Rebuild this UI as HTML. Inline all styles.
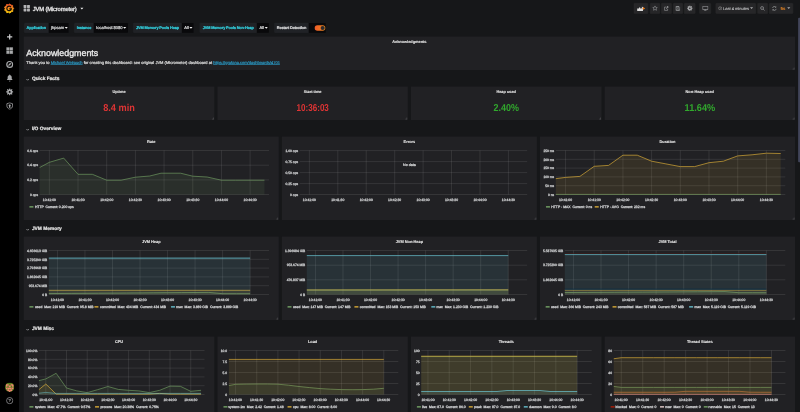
<!DOCTYPE html>
<html lang="en">
<head>
<meta charset="utf-8">
<title>JVM (Micrometer) - Grafana</title>
<style>
html,body{margin:0;padding:0;background:#161719;overflow:hidden;height:412px}
body{width:800px;height:412px;position:relative;font-family:"Liberation Sans",Arial,sans-serif;color:#d8d9da;text-rendering:geometricPrecision;-webkit-font-smoothing:antialiased}
#root{position:absolute;left:0;top:0;width:2560px;height:1318px;transform:scale(.3125);transform-origin:0 0;filter:opacity(1);background:#161719;overflow:hidden;font-size:14px;-webkit-text-stroke:.7px}
#root *{box-sizing:border-box}
.side{position:absolute;left:0;top:0;width:60.500px;height:1318px;background:#000}
.side svg{position:absolute}
.nav-title{position:absolute;left:105px;top:15px;height:26px;line-height:26px;font-size:18.600px;letter-spacing:-.48px;color:#ececec;white-space:nowrap;-webkit-text-stroke:.9px}
.nbtn{position:absolute;top:9.500px;height:34.500px;background:#262628;border:1px solid #2f2f32;border-radius:2px;color:#d8d9da;white-space:nowrap}
.nbtn svg{position:absolute;left:50%;top:50%}
.vlabel{position:absolute;top:73px;height:32px;line-height:32px;background:#202226;border:1px solid #282a2e;border-radius:2px 0 0 2px;font-size:12.300px;letter-spacing:-.45px;font-weight:bold;text-align:center;color:#32d1df;white-space:nowrap}
.vvalue{position:absolute;top:73px;height:32px;line-height:32px;background:#09090b;border:1px solid #111113;border-left:0;border-radius:0 2px 2px 0;font-size:13px;padding-left:8px;color:#d8d9da;white-space:nowrap}
.caret{display:inline-block;width:0;height:0;border-left:5.500px solid transparent;border-right:5.500px solid transparent;border-top:6.500px solid #f2f2f2;vertical-align:middle;margin-left:2px;position:relative;top:-1.500px}
.panel{position:absolute;background:#212124;overflow:hidden}
.ptitle{position:absolute;left:0;right:0;top:4px;height:22px;line-height:22px;text-align:center;font-size:12.400px;font-weight:bold;color:#e4e4e4;white-space:nowrap;-webkit-text-stroke:.35px}
.rowh{position:absolute;left:84px;height:30px;line-height:30px;font-size:15.500px;font-weight:bold;color:#e3e3e3;white-space:nowrap;padding-left:18px}
.rowh svg{position:absolute;left:-1.500px;top:13px}
.plot{position:absolute;left:0;top:0}
.grid{fill:none;stroke:#c8c8c8;stroke-opacity:.38;stroke-width:1}
.yl{position:absolute;font-size:10.600px;line-height:16px;height:16px;color:#bfc0c2;-webkit-text-stroke:.95px;white-space:nowrap;text-align:right}
.xl{position:absolute;width:80px;text-align:center;font-size:10.800px;line-height:16px;height:16px;color:#bfc0c2;-webkit-text-stroke:.95px;white-space:nowrap}
.lg{position:absolute;font-size:10.900px;line-height:18px;height:18px;color:#cdced0;white-space:pre;-webkit-text-stroke:.85px}
.sw{position:absolute;width:13px;height:4px;border-radius:1px}
.rz{position:absolute;right:2px;bottom:2px;width:6px;height:6px;border-right:2px solid #5a5a5e;border-bottom:2px solid #5a5a5e;opacity:.8}
.sval{position:absolute;left:0;right:0;text-align:center;font-weight:bold;font-size:32px;line-height:40px;white-space:nowrap;-webkit-text-stroke:0}
a{color:#2a9cc8;text-decoration:underline;text-decoration-thickness:1.600px;text-underline-offset:1px;-webkit-text-stroke:.5px}
</style>
</head>
<body>
<div id="root">

<div class="side">
<svg style="left:11.8px;top:9.56px" width="34" height="34" viewBox="0 0 34 34"><defs><linearGradient id="lg1" x1="0" y1="1" x2="0" y2="0"><stop offset="0" stop-color="#fcd10a"/><stop offset=".55" stop-color="#f58a1f"/><stop offset="1" stop-color="#f0512a"/></linearGradient></defs><path d="M19.27 2.27L22.84 6.59L28.4 7.25L28.36 12.85L32.2 16.93L28.56 21.19L28.88 26.78L23.36 27.71L20.01 32.2L15.18 29.36L9.73 30.65L7.85 25.37L2.85 22.85L4.8 17.6L2.59 12.45L7.46 9.69L9.08 4.33L14.59 5.34Z" fill="url(#lg1)" stroke="url(#lg1)" stroke-width="3" stroke-linejoin="round"/><path d="M23.300 13.200A7.200 7.200 0 1 0 24.300 18.200H17.600" fill="none" stroke="#000" stroke-opacity=".92" stroke-width="3.800"/></svg>
<svg style="left:21.36px;top:107.76px" width="20" height="20" viewBox="0 0 20 20"><path d="M8 1.500h4V8h6.500v4H12v6.500H8V12H1.500V8H8z" fill="#c9cacc"/></svg>
<svg style="left:19.04px;top:149.92px" width="24" height="24" viewBox="0 0 24 24"><path d="M2 2h9v9H2zM13 2h9v9h-9zM2 13h9v9H2zM13 13h9v9h-9z" fill="#a9aaac" stroke="#a9aaac" stroke-width="1" stroke-linejoin="round"/></svg>
<svg style="left:18.72px;top:194.08px" width="24" height="24" viewBox="0 0 24 24"><circle cx="12" cy="12" r="9.300" fill="none" stroke="#a9aaac" stroke-width="3.800"/><path d="M17.200 6.800l-3 7.400-7.400 3 3-7.400z" fill="#a9aaac"/></svg>
<svg style="left:20.04px;top:237.1px" width="22" height="25" viewBox="0 0 22 25"><path d="M11 1.500c1 0 1.700.700 1.700 1.700v.600c3 .700 4.800 3.200 4.800 6.300v4.600l2.500 3.400v1.100H2v-1.100l2.500-3.400v-4.600c0-3.100 1.800-5.600 4.800-6.300v-.600c0-1 .700-1.700 1.700-1.700zM8.300 21h5.400c0 1.500-1.200 2.700-2.700 2.700S8.300 22.500 8.300 21z" fill="#a9aaac"/></svg>
<svg style="left:18.72px;top:282.4px" width="24" height="24" viewBox="0 0 24 24"><path d="M10.23 0.84L13.77 0.84L14.04 4.06L16.17 4.94L18.64 2.86L21.14 5.36L19.06 7.83L19.94 9.96L23.16 10.23L23.16 13.77L19.94 14.04L19.06 16.17L21.14 18.64L18.64 21.14L16.17 19.06L14.04 19.94L13.77 23.16L10.23 23.16L9.96 19.94L7.83 19.06L5.36 21.14L2.86 18.64L4.94 16.17L4.06 14.04L0.84 13.77L0.84 10.23L4.06 9.96L4.94 7.83L2.86 5.36L5.36 2.86L7.83 4.94L9.96 4.06ZM8.9 12a3.1 3.1 0 1 0 6.2 0a3.1 3.1 0 1 0 -6.2 0z" fill="#a9aaac" fill-rule="evenodd"/></svg>
<svg style="left:19.04px;top:326.56px" width="24" height="24" viewBox="0 0 24 24"><path d="M12 2l9 2.800v6.700c0 5.500-3.700 9.300-9 11-5.300-1.700-9-5.500-9-11V4.800z" fill="none" stroke="#a9aaac" stroke-width="2.400" stroke-linejoin="round"/><path d="M12 7.500c2 0 3.300 1.300 3.300 3 0 1.200-.700 2.100-1.600 2.600l1.300 4.400H9l1.300-4.400c-.900-.500-1.600-1.400-1.600-2.600 0-1.700 1.300-3 3.300-3z" fill="#a9aaac"/></svg>
<svg style="left:15.72px;top:1223.72px" width="30" height="30" viewBox="0 0 28 28"><defs><clipPath id="avc"><circle cx="14" cy="14" r="14"/></clipPath></defs><g clip-path="url(#avc)"><rect width="28" height="28" fill="#5b7d1e"/><path d="M3 5h8v4H7v4H3zM25 5h-8v4h4v4h4zM11 9h6v5h-6zM3 15h5v5H3zM25 15h-5v5h5zM9 16h10v4H9zM7 21h5v5H7zM21 21h-5v5h5zM12 23h4v5h-4z" fill="#f28270"/></g></svg>
<svg style="left:18.72px;top:1269.92px" width="24" height="24" viewBox="0 0 24 24"><circle cx="12" cy="12" r="10" fill="none" stroke="#c4c5c7" stroke-width="1.800"/><text x="12" y="17" font-size="14" font-weight="bold" text-anchor="middle" fill="#c4c5c7" font-family="Liberation Sans, sans-serif">?</text></svg>
</div>
<svg style="position:absolute;left:74px;top:15px" width="23" height="23" viewBox="0 0 23 23"><g fill="#b3b4b6"><rect x="1.300" y="1.300" width="9.200" height="9.200" rx="1.300"/><rect x="12.500" y="1.300" width="9.200" height="9.200" rx="1.300"/><rect x="1.300" y="12.500" width="9.200" height="9.200" rx="1.300"/><rect x="12.500" y="12.500" width="9.200" height="9.200" rx="1.300"/></g></svg>
<div class="nav-title">JVM (Micrometer) <span class="caret" style="margin-left:7px;border-left-width:5px;border-right-width:5px;border-top-width:5px;border-top-color:#f0f0f0"></span></div>
<div class="nbtn" style="left:2028.48px;width:45.12px"><svg style="margin:-9px 0 0 -13px" width="27" height="18" viewBox="0 0 27 18"><path d="M1 17V10l2.500-1.500 2 1.500L8 5l3 2v3l2.500-2 2.500 1V3l3.500 2.500V17z" fill="#dcdcdc"/><path d="M19 5.500h3v-3h2.500v3h3V8h-3v3H22V8h-3z" fill="#eb7b18" transform="translate(-1.500,2)"/></svg></div>
<div class="nbtn" style="left:2079.68px;width:32.32px"><svg style="margin:-9.500px 0 0 -9px" width="18" height="18" viewBox="0 0 18 18"><path d="M9 1.800l2.200 4.800 5.200.600-3.900 3.500 1.100 5.100L9 13.200l-4.600 2.600 1.100-5.100L1.600 7.200l5.200-.600z" fill="none" stroke="#a9aaac" stroke-width="1.600" stroke-linejoin="round"/></svg></div>
<div class="nbtn" style="left:2116.16px;width:32.64px"><svg style="margin:-8px 0 0 -8px" width="16" height="16" viewBox="0 0 18 18"><path d="M8 4H3v12h11v-6" fill="none" stroke="#a9aaac" stroke-width="2"/><path d="M10 1.500h6.500V8L14 5.500 9.500 10.500 7.500 8.500l5-4.500z" fill="#a9aaac"/></svg></div>
<div class="nbtn" style="left:2153.6px;width:31.68px"><svg style="margin:-8px 0 0 -8px" width="16" height="16" viewBox="0 0 18 18"><path d="M2 2h11l3 3v11H2z" fill="none" stroke="#a9aaac" stroke-width="2"/><path d="M5 2h7v5H5zM5 10.500h8V16H5z" fill="none" stroke="#a9aaac" stroke-width="1.600"/></svg></div>
<div class="nbtn" style="left:2189.12px;width:36.16px"><svg style="margin:-9.500px 0 0 -9.500px" width="19" height="19" viewBox="0 0 24 24"><path d="M10.23 0.84L13.77 0.84L14.04 4.06L16.17 4.94L18.64 2.86L21.14 5.36L19.06 7.83L19.94 9.96L23.16 10.23L23.16 13.77L19.94 14.04L19.06 16.17L21.14 18.64L18.64 21.14L16.17 19.06L14.04 19.94L13.77 23.16L10.23 23.16L9.96 19.94L7.83 19.06L5.36 21.14L2.86 18.64L4.94 16.17L4.06 14.04L0.84 13.77L0.84 10.23L4.06 9.96L4.94 7.83L2.86 5.36L5.36 2.86L7.83 4.94L9.96 4.06ZM8.9 12a3.1 3.1 0 1 0 6.2 0a3.1 3.1 0 1 0 -6.2 0z" fill="#a2a3a5" fill-rule="evenodd"/></svg></div>
<div class="nbtn" style="left:2238.4px;width:36.48px"><svg style="margin:-8px 0 0 -10px" width="20" height="16" viewBox="0 0 22 18"><path d="M1.500 1.500h19v11.500h-19z" fill="none" stroke="#a9aaac" stroke-width="2.200"/><path d="M7 16.500h8v-1.500l-2-1.500H9l-2 1.500z" fill="#a9aaac"/></svg></div>
<div class="nbtn" style="left:2289.6px;width:129.28px"><svg style="left:7px;margin:-7px 0 0 0" width="13" height="13" viewBox="0 0 15 15"><circle cx="7.500" cy="7.500" r="6" fill="none" stroke="#a9aaac" stroke-width="1.800"/><path d="M7.500 3.500v4.300l2.800 1.600" fill="none" stroke="#a9aaac" stroke-width="1.500"/></svg><span style="position:absolute;left:23px;top:0;line-height:33px;font-size:12.800px;color:#bcbdbf;-webkit-text-stroke:.4px">Last 4 minutes</span><span class="caret" style="position:absolute;right:8px;top:12px;border-left-width:5px;border-right-width:5px;border-top-width:6px;border-top-color:#a9aaac"></span></div>
<div class="nbtn" style="left:2424px;width:32.96px"><svg style="margin:-8px 0 0 -8px" width="16" height="16" viewBox="0 0 18 18"><circle cx="7.500" cy="7.500" r="5.500" fill="none" stroke="#a9aaac" stroke-width="2"/><path d="M11.500 11.500l5 5" stroke="#a9aaac" stroke-width="2.400"/><path d="M5 7.500h5" stroke="#a9aaac" stroke-width="1.600"/></svg></div>
<div class="nbtn" style="left:2461.44px;width:76.16px"><svg style="left:7px;margin:-9px 0 0 0" width="18" height="18" viewBox="0 0 20 20"><path d="M3.500 8.500A6.500 6.500 0 0115 5.500M16.500 11.500A6.500 6.500 0 015 14.500" fill="none" stroke="#a9aaac" stroke-width="2.200"/><path d="M16.500 2v5h-5zM3.500 18v-5h5z" fill="#a9aaac"/></svg><span style="position:absolute;left:35px;top:0;line-height:33px;font-size:14px;font-weight:bold;-webkit-text-stroke:0;color:#f08a24">5s</span><span class="caret" style="position:absolute;right:8px;top:12px;border-left-width:5px;border-right-width:5px;border-top-width:6px;border-top-color:#a9aaac"></span></div>
<div class="vlabel" style="left:76.8px;width:78.72px;color:#32d1df">Application</div><div class="vvalue" style="left:155.52px;width:64.96px">jhpsam<span class="caret"></span></div>
<div class="vlabel" style="left:237.12px;width:63.04px;color:#32d1df">Instance</div><div class="vvalue" style="left:300.16px;width:109.44px">localhost:8080<span class="caret"></span></div>
<div class="vlabel" style="left:426.24px;width:155.52px;color:#32d1df">JVM Memory Pools Heap</div><div class="vvalue" style="left:581.76px;width:38.72px">All<span class="caret"></span></div>
<div class="vlabel" style="left:639.04px;width:183.04px;color:#32d1df">JVM Memory Pools Non-Heap</div><div class="vvalue" style="left:822.08px;width:39.36px">All<span class="caret"></span></div>
<div class="vlabel" style="left:878.4px;width:109.12px;color:#d8d9da">Restart Detection</div><div class="vvalue" style="left:987.52px;width:55.36px"><span style="position:absolute;left:19px;top:7px;width:34px;height:17px;border-radius:9px;background:linear-gradient(90deg,#f05a28,#eb8a1e)"><span style="position:absolute;right:2px;top:2px;width:13px;height:13px;border-radius:50%;background:#2b2b2e"></span></span></div>
<div class="panel" style="left:76px;top:117px;width:2468px;height:107px">
<div class="ptitle">Acknowledgments</div>
<div style="position:absolute;left:8px;top:35px;font-size:28.400px;line-height:34px;color:#ececec;white-space:nowrap;-webkit-text-stroke:1px">Acknowledgments</div>
<div style="position:absolute;left:8px;top:75px;font-size:12.900px;line-height:18px;white-space:nowrap;color:#dcdcdc;-webkit-text-stroke:.65px">Thank you to <a>Michael Weirauch</a> for creating this dashboard: see original JVM (Micrometer) dashboard at <a>https://grafana.com/dashboards/4701</a></div>
<b class="rz"></b></div>
<div class="rowh" style="top:238px"><svg width="11" height="8" viewBox="0 0 11 8"><path d="M1.500 1.800l4 4 4-4" fill="none" stroke="#d0d1d3" stroke-width="1.900"/></svg>Quick Facts</div>
<div class="rowh" style="top:398px"><svg width="11" height="8" viewBox="0 0 11 8"><path d="M1.500 1.800l4 4 4-4" fill="none" stroke="#d0d1d3" stroke-width="1.900"/></svg>I/O Overview</div>
<div class="rowh" style="top:718px"><svg width="11" height="8" viewBox="0 0 11 8"><path d="M1.500 1.800l4 4 4-4" fill="none" stroke="#d0d1d3" stroke-width="1.900"/></svg>JVM Memory</div>
<div class="rowh" style="top:1038px"><svg width="11" height="8" viewBox="0 0 11 8"><path d="M1.500 1.800l4 4 4-4" fill="none" stroke="#d0d1d3" stroke-width="1.900"/></svg>JVM Misc</div>
<div class="panel" style="left:76px;top:277px;width:609.5px;height:107px"><div class="ptitle">Uptime</div><div class="sval" style="top:46.500px;color:rgba(245,54,54,.9);transform:scaleX(0.918)">8.4 min</div><b class="rz"></b></div>
<div class="panel" style="left:695.5px;top:277px;width:609.5px;height:107px"><div class="ptitle">Start time</div><div class="sval" style="top:46.500px;color:rgba(245,54,54,.9);transform:scaleX(0.805)">10:36:03</div><b class="rz"></b></div>
<div class="panel" style="left:1315px;top:277px;width:609.5px;height:107px"><div class="ptitle">Heap used</div><div class="sval" style="top:46.500px;color:rgba(50,172,45,.97);transform:scaleX(0.897)">2.40%</div><b class="rz"></b></div>
<div class="panel" style="left:1934.5px;top:277px;width:609.5px;height:107px"><div class="ptitle">Non-Heap used</div><div class="sval" style="top:46.500px;color:rgba(50,172,45,.97);transform:scaleX(0.918)">11.64%</div><b class="rz"></b></div>
<div class="panel" style="left:76px;top:437px;width:816px;height:267px">
<div class="ptitle">Rate</div>
<svg class="plot" width="816" height="267" viewBox="0 0 816 267">
<path class="grid" d="M50.72 44.6H784.96M50.72 91.64H784.96M50.72 138.68H784.96M50.72 185.4H784.96M81.93 44.48V185.6M173.71 44.48V185.6M265.49 44.48V185.6M357.27 44.48V185.6M449.05 44.48V185.6M540.83 44.48V185.6M632.61 44.48V185.6M724.39 44.48V185.6"/>
<clipPath id="c76_437"><rect x="50.72" y="40.48" width="734.24" height="147.12"/></clipPath>
<g clip-path="url(#c76_437)">
<path d="M36.04 107L81.93 82.36L127.82 68.92L173.71 120.76L219.6 120.76L265.49 139.64L311.38 139.64L357.27 130.04L403.16 126.2L439.2 117.24L501.92 117.24L540.83 126.84L586.72 129.4L632.61 139.64L678.5 139.64L724.39 139.64L770.28 139.64L770.28 185.6L36.04 185.6Z" fill="#7eb26d" fill-opacity="0.1" stroke="none"/>
<path d="M36.04 107L81.93 82.36L127.82 68.92L173.71 120.76L219.6 120.76L265.49 139.64L311.38 139.64L357.27 130.04L403.16 126.2L439.2 117.24L501.92 117.24L540.83 126.84L586.72 129.4L632.61 139.64L678.5 139.64L724.39 139.64L770.28 139.64" fill="none" stroke="#7eb26d" stroke-width="2" stroke-opacity="0.9" stroke-linejoin="round"/>
</g>
</svg>
<div class="yl" style="right:770.28px;top:37.4px">0.6 ops</div>
<div class="yl" style="right:770.28px;top:84.44px">0.4 ops</div>
<div class="yl" style="right:770.28px;top:131.48px">0.2 ops</div>
<div class="yl" style="right:770.28px;top:178.2px">0 ops</div>
<div class="xl" style="left:41.93px;top:194.48px">10:41:00</div>
<div class="xl" style="left:133.71px;top:194.48px">10:41:30</div>
<div class="xl" style="left:225.49px;top:194.48px">10:42:00</div>
<div class="xl" style="left:317.27px;top:194.48px">10:42:30</div>
<div class="xl" style="left:409.05px;top:194.48px">10:43:00</div>
<div class="xl" style="left:500.83px;top:194.48px">10:43:30</div>
<div class="xl" style="left:592.61px;top:194.48px">10:44:00</div>
<div class="xl" style="left:684.39px;top:194.48px">10:44:30</div>
<i class="sw" style="left:18.4px;top:222.64px;background:#7eb26d"></i>
<div class="lg" style="left:35.68px;top:215.64px">HTTP  Current: 0.200 ops</div>
<b class="rz"></b></div>
<div class="panel" style="left:902px;top:437px;width:816px;height:267px">
<div class="ptitle">Errors</div>
<svg class="plot" width="816" height="267" viewBox="0 0 816 267">
<path class="grid" d="M57.04 44.92H784.96M57.04 80.12H784.96M57.04 115.32H784.96M57.04 150.52H784.96M57.04 185.4H784.96M87.98 44.48V185.6M178.97 44.48V185.6M269.96 44.48V185.6M360.95 44.48V185.6M451.94 44.48V185.6M542.93 44.48V185.6M633.92 44.48V185.6M724.91 44.48V185.6"/>
<clipPath id="c902_437"><rect x="57.04" y="40.48" width="727.92" height="147.12"/></clipPath>
<g clip-path="url(#c902_437)">
</g>
</svg>
<div class="yl" style="right:763.96px;top:37.72px">1.00 ops</div>
<div class="yl" style="right:763.96px;top:72.92px">0.75 ops</div>
<div class="yl" style="right:763.96px;top:108.12px">0.50 ops</div>
<div class="yl" style="right:763.96px;top:143.32px">0.25 ops</div>
<div class="yl" style="right:763.96px;top:178.2px">0 ops</div>
<div class="xl" style="left:47.98px;top:194.48px">10:41:00</div>
<div class="xl" style="left:138.97px;top:194.48px">10:41:30</div>
<div class="xl" style="left:229.96px;top:194.48px">10:42:00</div>
<div class="xl" style="left:320.95px;top:194.48px">10:42:30</div>
<div class="xl" style="left:411.94px;top:194.48px">10:43:00</div>
<div class="xl" style="left:502.93px;top:194.48px">10:43:30</div>
<div class="xl" style="left:593.92px;top:194.48px">10:44:00</div>
<div class="xl" style="left:684.91px;top:194.48px">10:44:30</div>
<div style="position:absolute;left:0;right:0;top:81.68px;text-align:center;font-size:11.500px;line-height:18px">No data</div><b class="rz"></b></div>
<div class="panel" style="left:1728px;top:437px;width:816px;height:267px">
<div class="ptitle">Duration</div>
<svg class="plot" width="816" height="267" viewBox="0 0 816 267">
<path class="grid" d="M50.56 44.6H784.96M50.56 72.76H784.96M50.56 100.92H784.96M50.56 129.08H784.96M50.56 157.24H784.96M50.56 185.4H784.96M81.77 44.48V185.6M173.57 44.48V185.6M265.37 44.48V185.6M357.17 44.48V185.6M448.97 44.48V185.6M540.77 44.48V185.6M632.57 44.48V185.6M724.37 44.48V185.6"/>
<clipPath id="c1728_437"><rect x="50.56" y="40.48" width="734.4" height="147.12"/></clipPath>
<g clip-path="url(#c1728_437)">
<path d="M35.87 185.08L770.27 185.08L770.27 185.6L35.87 185.6Z" fill="#7eb26d" fill-opacity="0.1" stroke="none"/>
<path d="M35.87 185.08L770.27 185.08" fill="none" stroke="#7eb26d" stroke-width="2" stroke-opacity="0.9" stroke-linejoin="round"/>
<path d="M35.87 136.76L81.77 130.68L127.67 127.48L173.57 95.16L219.47 92.28L265.37 59.64L311.27 59.64L357.17 78.84L403.07 87.48L448.97 96.12L494.87 96.12L540.77 83.64L586.67 78.84L632.57 61.88L678.47 58.36L724.37 53.24L770.27 54.2L770.27 185.6L35.87 185.6Z" fill="#eab839" fill-opacity="0.1" stroke="none"/>
<path d="M35.87 136.76L81.77 130.68L127.67 127.48L173.57 95.16L219.47 92.28L265.37 59.64L311.27 59.64L357.17 78.84L403.07 87.48L448.97 96.12L494.87 96.12L540.77 83.64L586.67 78.84L632.57 61.88L678.47 58.36L724.37 53.24L770.27 54.2" fill="none" stroke="#eab839" stroke-width="2.5" stroke-opacity="0.8" stroke-linejoin="round"/>
</g>
</svg>
<div class="yl" style="right:770.44px;top:37.4px">250 ms</div>
<div class="yl" style="right:770.44px;top:65.56px">200 ms</div>
<div class="yl" style="right:770.44px;top:93.72px">150 ms</div>
<div class="yl" style="right:770.44px;top:121.88px">100 ms</div>
<div class="yl" style="right:770.44px;top:150.04px">50 ms</div>
<div class="yl" style="right:770.44px;top:178.2px">0 ns</div>
<div class="xl" style="left:41.77px;top:194.48px">10:41:00</div>
<div class="xl" style="left:133.57px;top:194.48px">10:41:30</div>
<div class="xl" style="left:225.37px;top:194.48px">10:42:00</div>
<div class="xl" style="left:317.17px;top:194.48px">10:42:30</div>
<div class="xl" style="left:408.97px;top:194.48px">10:43:00</div>
<div class="xl" style="left:500.77px;top:194.48px">10:43:30</div>
<div class="xl" style="left:592.57px;top:194.48px">10:44:00</div>
<div class="xl" style="left:684.37px;top:194.48px">10:44:30</div>
<i class="sw" style="left:18.88px;top:222.64px;background:#7eb26d"></i>
<div class="lg" style="left:36.16px;top:215.64px">HTTP - MAX  Current: 0 ns</div>
<i class="sw" style="left:175.36px;top:222.64px;background:#eab839"></i>
<div class="lg" style="left:192.64px;top:215.64px">HTTP - AVG  Current: 232 ms</div>
<b class="rz"></b></div>
<div class="panel" style="left:76px;top:757px;width:816px;height:267px">
<div class="ptitle">JVM Heap</div>
<svg class="plot" width="816" height="267" viewBox="0 0 816 267">
<path class="grid" d="M80.16 44.6H784.96M80.16 72.76H784.96M80.16 100.92H784.96M80.16 129.08H784.96M80.16 157.24H784.96M80.16 185.4H784.96M107.76 44.48V185.6M195.86 44.48V185.6M283.96 44.48V185.6M372.06 44.48V185.6M460.16 44.48V185.6M548.26 44.48V185.6M636.36 44.48V185.6M724.46 44.48V185.6"/>
<clipPath id="c76_757"><rect x="80.16" y="40.48" width="704.8" height="147.12"/></clipPath>
<g clip-path="url(#c76_757)">
<path d="M73.76 182.52L107.76 182.2L151.81 181.88L195.86 181.56L239.91 181.24L283.96 180.92L328.01 180.6L372.06 180.28L416.11 179.96L460.16 179.64L504.21 179.32L548.26 179L592.31 178.68L636.36 182.84L680.41 182.84L724.46 182.84L724.46 185.6L73.76 185.6Z" fill="#7eb26d" fill-opacity="0.1" stroke="none"/>
<path d="M73.76 182.52L107.76 182.2L151.81 181.88L195.86 181.56L239.91 181.24L283.96 180.92L328.01 180.6L372.06 180.28L416.11 179.96L460.16 179.64L504.21 179.32L548.26 179L592.31 178.68L636.36 182.84L680.41 182.84L724.46 182.84" fill="none" stroke="#7eb26d" stroke-width="2" stroke-opacity="0.9" stroke-linejoin="round"/>
<path d="M73.76 171.96L724.46 171.96L724.46 185.6L73.76 185.6Z" fill="#eab839" fill-opacity="0.1" stroke="none"/>
<path d="M73.76 171.96L724.46 171.96" fill="none" stroke="#eab839" stroke-width="2.5" stroke-opacity="0.8" stroke-linejoin="round"/>
<path d="M73.76 69.08L724.46 69.08L724.46 185.6L73.76 185.6Z" fill="#6ed0e0" fill-opacity="0.1" stroke="none"/>
<path d="M73.76 69.08L724.46 69.08" fill="none" stroke="#6ed0e0" stroke-width="4.6" stroke-opacity="0.6" stroke-linejoin="round"/>
</g>
</svg>
<div class="yl" style="right:740.84px;top:37.4px">4.656613 GiB</div>
<div class="yl" style="right:740.84px;top:65.56px">3.725290 GiB</div>
<div class="yl" style="right:740.84px;top:93.72px">2.793968 GiB</div>
<div class="yl" style="right:740.84px;top:121.88px">1.862645 GiB</div>
<div class="yl" style="right:740.84px;top:150.04px">953.674 MiB</div>
<div class="yl" style="right:740.84px;top:178.2px">0 B</div>
<div class="xl" style="left:67.76px;top:194.48px">10:41:00</div>
<div class="xl" style="left:155.86px;top:194.48px">10:41:30</div>
<div class="xl" style="left:243.96px;top:194.48px">10:42:00</div>
<div class="xl" style="left:332.06px;top:194.48px">10:42:30</div>
<div class="xl" style="left:420.16px;top:194.48px">10:43:00</div>
<div class="xl" style="left:508.26px;top:194.48px">10:43:30</div>
<div class="xl" style="left:596.36px;top:194.48px">10:44:00</div>
<div class="xl" style="left:684.46px;top:194.48px">10:44:30</div>
<i class="sw" style="left:18.4px;top:222.64px;background:#7eb26d"></i>
<div class="lg" style="left:35.68px;top:215.64px">used  Max: 219 MiB  Current: 95.8 MiB</div>
<i class="sw" style="left:226.08px;top:222.64px;background:#eab839"></i>
<div class="lg" style="left:244px;top:215.64px">committed  Max: 434 MiB  Current: 434 MiB</div>
<i class="sw" style="left:471.2px;top:222.64px;background:#6ed0e0"></i>
<div class="lg" style="left:488px;top:215.64px">max  Max: 3.889 GiB  Current: 3.889 GiB</div>
<b class="rz"></b></div>
<div class="panel" style="left:902px;top:757px;width:816px;height:267px">
<div class="ptitle">JVM Non-Heap</div>
<svg class="plot" width="816" height="267" viewBox="0 0 816 267">
<path class="grid" d="M79.76 44.6H784.96M79.76 91.64H784.96M79.76 138.36H784.96M79.76 185.4H784.96M107.38 44.48V185.6M195.53 44.48V185.6M283.68 44.48V185.6M371.83 44.48V185.6M459.98 44.48V185.6M548.13 44.48V185.6M636.28 44.48V185.6M724.43 44.48V185.6"/>
<clipPath id="c902_757"><rect x="79.76" y="40.48" width="705.2" height="147.12"/></clipPath>
<g clip-path="url(#c902_757)">
<path d="M73.36 171.32L724.43 171L724.43 185.6L73.36 185.6Z" fill="#7eb26d" fill-opacity="0.1" stroke="none"/>
<path d="M73.36 171.32L724.43 171" fill="none" stroke="#7eb26d" stroke-width="2" stroke-opacity="0.9" stroke-linejoin="round"/>
<path d="M73.36 170.68L724.43 170.36L724.43 185.6L73.36 185.6Z" fill="#eab839" fill-opacity="0.1" stroke="none"/>
<path d="M73.36 170.68L724.43 170.36" fill="none" stroke="#eab839" stroke-width="2.5" stroke-opacity="0.8" stroke-linejoin="round"/>
<path d="M73.36 60.92L724.43 60.92L724.43 185.6L73.36 185.6Z" fill="#6ed0e0" fill-opacity="0.1" stroke="none"/>
<path d="M73.36 60.92L724.43 60.92" fill="none" stroke="#6ed0e0" stroke-width="2.6" stroke-opacity="0.8" stroke-linejoin="round"/>
</g>
</svg>
<div class="yl" style="right:741.24px;top:37.4px">1.396984 GiB</div>
<div class="yl" style="right:741.24px;top:84.44px">953.674 MiB</div>
<div class="yl" style="right:741.24px;top:131.16px">476.837 MiB</div>
<div class="yl" style="right:741.24px;top:178.2px">0 B</div>
<div class="xl" style="left:67.38px;top:194.48px">10:41:00</div>
<div class="xl" style="left:155.53px;top:194.48px">10:41:30</div>
<div class="xl" style="left:243.68px;top:194.48px">10:42:00</div>
<div class="xl" style="left:331.83px;top:194.48px">10:42:30</div>
<div class="xl" style="left:419.98px;top:194.48px">10:43:00</div>
<div class="xl" style="left:508.13px;top:194.48px">10:43:30</div>
<div class="xl" style="left:596.28px;top:194.48px">10:44:00</div>
<div class="xl" style="left:684.43px;top:194.48px">10:44:30</div>
<i class="sw" style="left:18px;top:222.64px;background:#7eb26d"></i>
<div class="lg" style="left:35.28px;top:215.64px">used  Max: 147 MiB  Current: 147 MiB</div>
<i class="sw" style="left:232.08px;top:222.64px;background:#eab839"></i>
<div class="lg" style="left:249.36px;top:215.64px">committed  Max: 153 MiB  Current: 153 MiB</div>
<i class="sw" style="left:477.84px;top:222.64px;background:#6ed0e0"></i>
<div class="lg" style="left:494.48px;top:215.64px">max  Max: 1.230 GiB  Current: 1.230 GiB</div>
<b class="rz"></b></div>
<div class="panel" style="left:1728px;top:757px;width:816px;height:267px">
<div class="ptitle">JVM Total</div>
<svg class="plot" width="816" height="267" viewBox="0 0 816 267">
<path class="grid" d="M79.36 44.6H784.96M79.36 91.64H784.96M79.36 138.36H784.96M79.36 185.4H784.96M107 44.48V185.6M195.2 44.48V185.6M283.4 44.48V185.6M371.6 44.48V185.6M459.8 44.48V185.6M548 44.48V185.6M636.2 44.48V185.6M724.4 44.48V185.6"/>
<clipPath id="c1728_757"><rect x="79.36" y="40.48" width="705.6" height="147.12"/></clipPath>
<g clip-path="url(#c1728_757)">
<path d="M72.96 179.16L107 178.91L151.1 178.65L195.2 178.4L239.3 178.15L283.4 177.89L327.5 177.64L371.6 177.39L415.7 177.13L459.8 176.88L503.9 176.63L548 176.37L592.1 176.12L636.2 179.64L680.3 179.64L724.4 179.64L724.4 185.6L72.96 185.6Z" fill="#7eb26d" fill-opacity="0.1" stroke="none"/>
<path d="M72.96 179.16L107 178.91L151.1 178.65L195.2 178.4L239.3 178.15L283.4 177.89L327.5 177.64L371.6 177.39L415.7 177.13L459.8 176.88L503.9 176.63L548 176.37L592.1 176.12L636.2 179.64L680.3 179.64L724.4 179.64" fill="none" stroke="#7eb26d" stroke-width="2" stroke-opacity="0.9" stroke-linejoin="round"/>
<path d="M72.96 171.32L724.4 171.32L724.4 185.6L72.96 185.6Z" fill="#eab839" fill-opacity="0.1" stroke="none"/>
<path d="M72.96 171.32L724.4 171.32" fill="none" stroke="#eab839" stroke-width="2.5" stroke-opacity="0.8" stroke-linejoin="round"/>
<path d="M72.96 168.44L724.4 168.44" fill="none" stroke="#031d38" stroke-width="3.2" stroke-opacity="1" stroke-linejoin="round"/>
<path d="M72.96 55.16L724.4 55.16" fill="none" stroke="#4a1a16" stroke-width="2.2" stroke-opacity="1" stroke-linejoin="round"/>
<path d="M72.96 57.72L724.4 57.72L724.4 185.6L72.96 185.6Z" fill="#6ed0e0" fill-opacity="0.1" stroke="none"/>
<path d="M72.96 57.72L724.4 57.72" fill="none" stroke="#6ed0e0" stroke-width="2.6" stroke-opacity="0.8" stroke-linejoin="round"/>
</g>
</svg>
<div class="yl" style="right:741.64px;top:37.4px">5.587935 GiB</div>
<div class="yl" style="right:741.64px;top:84.44px">3.725290 GiB</div>
<div class="yl" style="right:741.64px;top:131.16px">1.862645 GiB</div>
<div class="yl" style="right:741.64px;top:178.2px">0 B</div>
<div class="xl" style="left:67px;top:194.48px">10:41:00</div>
<div class="xl" style="left:155.2px;top:194.48px">10:41:30</div>
<div class="xl" style="left:243.4px;top:194.48px">10:42:00</div>
<div class="xl" style="left:331.6px;top:194.48px">10:42:30</div>
<div class="xl" style="left:419.8px;top:194.48px">10:43:00</div>
<div class="xl" style="left:508px;top:194.48px">10:43:30</div>
<div class="xl" style="left:596.2px;top:194.48px">10:44:00</div>
<div class="xl" style="left:684.4px;top:194.48px">10:44:30</div>
<i class="sw" style="left:17.6px;top:222.64px;background:#7eb26d"></i>
<div class="lg" style="left:34.88px;top:215.64px">used  Max: 366 MiB  Current: 243 MiB</div>
<i class="sw" style="left:231.68px;top:222.64px;background:#eab839"></i>
<div class="lg" style="left:248.96px;top:215.64px">committed  Max: 587 MiB  Current: 587 MiB</div>
<i class="sw" style="left:477.44px;top:222.64px;background:#6ed0e0"></i>
<div class="lg" style="left:494.08px;top:215.64px">max  Max: 5.119 GiB  Current: 5.119 GiB</div>
<b class="rz"></b></div>
<div class="panel" style="left:76px;top:1077px;width:609.5px;height:267px">
<div class="ptitle">CPU</div>
<svg class="plot" width="609.5" height="267" viewBox="0 0 609.5 267">
<path class="grid" d="M48.48 44.6H578.46M48.48 72.76H578.46M48.48 100.92H578.46M48.48 129.08H578.46M48.48 157.24H578.46M48.48 185.4H578.46M70.56 44.48V185.6M136.81 44.48V185.6M203.06 44.48V185.6M269.31 44.48V185.6M335.55 44.48V185.6M401.8 44.48V185.6M468.05 44.48V185.6M534.3 44.48V185.6"/>
<clipPath id="c76_1077"><rect x="48.48" y="40.48" width="529.98" height="147.12"/></clipPath>
<g clip-path="url(#c76_1077)">
<path d="M37.44 143.8L70.56 135.48L103.69 117.56L136.81 164.6L169.93 173.88L203.06 179.32L236.18 170.04L269.31 159.8L302.43 169.08L335.55 171.96L368.68 173.88L401.8 179.32L434.92 171.96L468.05 158.52L501.17 159.16L534.3 175.16L567.42 171.96L567.42 185.6L37.44 185.6Z" fill="#7eb26d" fill-opacity="0.1" stroke="none"/>
<path d="M37.44 143.8L70.56 135.48L103.69 117.56L136.81 164.6L169.93 173.88L203.06 179.32L236.18 170.04L269.31 159.8L302.43 169.08L335.55 171.96L368.68 173.88L401.8 179.32L434.92 171.96L468.05 158.52L501.17 159.16L534.3 175.16L567.42 171.96" fill="none" stroke="#7eb26d" stroke-width="2" stroke-opacity="0.9" stroke-linejoin="round"/>
<path d="M37.44 179L70.56 151.8L103.69 184.12L136.81 184.12L169.93 184.12L203.06 184.12L236.18 184.12L269.31 184.12L302.43 184.12L335.55 184.12L368.68 184.12L401.8 184.12L434.92 181.88L468.05 184.12L501.17 184.12L534.3 184.12L567.42 184.12L567.42 185.6L37.44 185.6Z" fill="#eab839" fill-opacity="0.1" stroke="none"/>
<path d="M37.44 179L70.56 151.8L103.69 184.12L136.81 184.12L169.93 184.12L203.06 184.12L236.18 184.12L269.31 184.12L302.43 184.12L335.55 184.12L368.68 184.12L401.8 184.12L434.92 181.88L468.05 184.12L501.17 184.12L534.3 184.12L567.42 184.12" fill="none" stroke="#eab839" stroke-width="2.5" stroke-opacity="0.8" stroke-linejoin="round"/>
<path d="M37.44 182.52L70.56 178.68L103.69 181.88L136.81 181.88L169.93 181.88L203.06 181.88L236.18 181.88L269.31 181.88L302.43 181.88L335.55 181.88L368.68 181.88L401.8 181.88L434.92 181.88L468.05 181.88L501.17 181.88L534.3 181.88L567.42 181.88L567.42 185.6L37.44 185.6Z" fill="#6ed0e0" fill-opacity="0.1" stroke="none"/>
<path d="M37.44 182.52L70.56 178.68L103.69 181.88L136.81 181.88L169.93 181.88L203.06 181.88L236.18 181.88L269.31 181.88L302.43 181.88L335.55 181.88L368.68 181.88L401.8 181.88L434.92 181.88L468.05 181.88L501.17 181.88L534.3 181.88L567.42 181.88" fill="none" stroke="#6ed0e0" stroke-width="2.1" stroke-opacity="0.7" stroke-linejoin="round"/>
</g>
</svg>
<div class="yl" style="right:566.02px;top:37.4px">100.0%</div>
<div class="yl" style="right:566.02px;top:65.56px">80.0%</div>
<div class="yl" style="right:566.02px;top:93.72px">60.0%</div>
<div class="yl" style="right:566.02px;top:121.88px">40.0%</div>
<div class="yl" style="right:566.02px;top:150.04px">20.0%</div>
<div class="yl" style="right:566.02px;top:178.2px">0%</div>
<div class="xl" style="left:30.56px;top:194.48px">10:41:00</div>
<div class="xl" style="left:96.81px;top:194.48px">10:41:30</div>
<div class="xl" style="left:163.06px;top:194.48px">10:42:00</div>
<div class="xl" style="left:229.31px;top:194.48px">10:42:30</div>
<div class="xl" style="left:295.55px;top:194.48px">10:43:00</div>
<div class="xl" style="left:361.8px;top:194.48px">10:43:30</div>
<div class="xl" style="left:428.05px;top:194.48px">10:44:00</div>
<div class="xl" style="left:494.3px;top:194.48px">10:44:30</div>
<i class="sw" style="left:18.4px;top:222.64px;background:#7eb26d"></i>
<div class="lg" style="left:35.68px;top:215.64px">system  Max: 47.7%  Current: 9.57%</div>
<i class="sw" style="left:228.32px;top:222.64px;background:#eab839"></i>
<div class="lg" style="left:245.28px;top:215.64px">process  Max: 20.38%  Current: 0.75%</div>
<b class="rz"></b></div>
<div class="panel" style="left:695.5px;top:1077px;width:609.5px;height:267px">
<div class="ptitle">Load</div>
<svg class="plot" width="609.5" height="267" viewBox="0 0 609.5 267">
<path class="grid" d="M36.34 44.6H578.46M36.34 79.8H578.46M36.34 115H578.46M36.34 150.2H578.46M36.34 185.4H578.46M57.8 44.48V185.6M125.56 44.48V185.6M193.33 44.48V185.6M261.09 44.48V185.6M328.86 44.48V185.6M396.62 44.48V185.6M464.39 44.48V185.6M532.15 44.48V185.6"/>
<clipPath id="c695_1077"><rect x="36.34" y="40.48" width="542.12" height="147.12"/></clipPath>
<g clip-path="url(#c695_1077)">
<path d="M23.92 159.16L57.8 152.76L91.68 152.12L125.56 151.8L159.45 151.8L193.33 152.44L227.21 155.64L261.09 159.8L294.98 163.32L328.86 166.52L362.74 168.44L396.62 169.72L430.51 170.04L464.39 169.72L498.27 168.44L532.15 165.56L532.15 185.6L23.92 185.6Z" fill="#7eb26d" fill-opacity="0.1" stroke="none"/>
<path d="M23.92 159.16L57.8 152.76L91.68 152.12L125.56 151.8L159.45 151.8L193.33 152.44L227.21 155.64L261.09 159.8L294.98 163.32L328.86 166.52L362.74 168.44L396.62 169.72L430.51 170.04L464.39 169.72L498.27 168.44L532.15 165.56" fill="none" stroke="#7eb26d" stroke-width="2" stroke-opacity="0.9" stroke-linejoin="round"/>
<path d="M29.94 73.08L532.15 73.08L532.15 185.6L29.94 185.6Z" fill="#eab839" fill-opacity="0.1" stroke="none"/>
<path d="M29.94 73.08L532.15 73.08" fill="none" stroke="#eab839" stroke-width="2.5" stroke-opacity="0.8" stroke-linejoin="round"/>
</g>
</svg>
<div class="yl" style="right:578.16px;top:37.4px">10.0</div>
<div class="yl" style="right:578.16px;top:72.6px">7.5</div>
<div class="yl" style="right:578.16px;top:107.8px">5.0</div>
<div class="yl" style="right:578.16px;top:143px">2.5</div>
<div class="yl" style="right:578.16px;top:178.2px">0</div>
<div class="xl" style="left:17.8px;top:194.48px">10:41:00</div>
<div class="xl" style="left:85.56px;top:194.48px">10:41:30</div>
<div class="xl" style="left:153.33px;top:194.48px">10:42:00</div>
<div class="xl" style="left:221.09px;top:194.48px">10:42:30</div>
<div class="xl" style="left:288.86px;top:194.48px">10:43:00</div>
<div class="xl" style="left:356.62px;top:194.48px">10:43:30</div>
<div class="xl" style="left:424.39px;top:194.48px">10:44:00</div>
<div class="xl" style="left:492.15px;top:194.48px">10:44:30</div>
<i class="sw" style="left:19.38px;top:222.64px;background:#7eb26d"></i>
<div class="lg" style="left:35.06px;top:215.64px">system-1m  Max: 2.42  Current: 1.48</div>
<i class="sw" style="left:224.5px;top:222.64px;background:#eab839"></i>
<div class="lg" style="left:242.1px;top:215.64px">cpu  Max: 8.00  Current: 8.00</div>
<b class="rz"></b></div>
<div class="panel" style="left:1315px;top:1077px;width:609.5px;height:267px">
<div class="ptitle">Threads</div>
<svg class="plot" width="609.5" height="267" viewBox="0 0 609.5 267">
<path class="grid" d="M32.84 44.6H578.46M32.84 79.8H578.46M32.84 115H578.46M32.84 150.2H578.46M32.84 185.4H578.46M54.44 44.48V185.6M122.64 44.48V185.6M190.84 44.48V185.6M259.04 44.48V185.6M327.25 44.48V185.6M395.45 44.48V185.6M463.65 44.48V185.6M531.85 44.48V185.6"/>
<clipPath id="c1315_1077"><rect x="32.84" y="40.48" width="545.62" height="147.12"/></clipPath>
<g clip-path="url(#c1315_1077)">
<path d="M26.44 64.12L531.85 64.12L531.85 185.6L26.44 185.6Z" fill="#7eb26d" fill-opacity="0.08" stroke="none"/>
<path d="M26.44 64.12L531.85 64.12" fill="none" stroke="#7eb26d" stroke-width="2" stroke-opacity="0.9" stroke-linejoin="round"/>
<path d="M26.44 62.84L531.85 62.84L531.85 185.6L26.44 185.6Z" fill="#eab839" fill-opacity="0.12" stroke="none"/>
<path d="M26.44 62.84L531.85 62.84" fill="none" stroke="#eab839" stroke-width="2.5" stroke-opacity="0.8" stroke-linejoin="round"/>
<path d="M26.44 175.8L275.4 175.8L307.4 172.6L413 172.6L445 175.8L531.85 175.8L531.85 185.6L26.44 185.6Z" fill="#6ed0e0" fill-opacity="0.1" stroke="none"/>
<path d="M26.44 175.8L275.4 175.8L307.4 172.6L413 172.6L445 175.8L531.85 175.8" fill="none" stroke="#6ed0e0" stroke-width="2.6" stroke-opacity="0.8" stroke-linejoin="round"/>
</g>
</svg>
<div class="yl" style="right:581.66px;top:37.4px">100</div>
<div class="yl" style="right:581.66px;top:72.6px">75</div>
<div class="yl" style="right:581.66px;top:107.8px">50</div>
<div class="yl" style="right:581.66px;top:143px">25</div>
<div class="yl" style="right:581.66px;top:178.2px">0</div>
<div class="xl" style="left:14.44px;top:194.48px">10:41:00</div>
<div class="xl" style="left:82.64px;top:194.48px">10:41:30</div>
<div class="xl" style="left:150.84px;top:194.48px">10:42:00</div>
<div class="xl" style="left:219.04px;top:194.48px">10:42:30</div>
<div class="xl" style="left:287.25px;top:194.48px">10:43:00</div>
<div class="xl" style="left:355.45px;top:194.48px">10:43:30</div>
<div class="xl" style="left:423.65px;top:194.48px">10:44:00</div>
<div class="xl" style="left:491.85px;top:194.48px">10:44:30</div>
<i class="sw" style="left:19.4px;top:222.64px;background:#7eb26d"></i>
<div class="lg" style="left:35.4px;top:215.64px">live  Max: 87.0  Current: 86.0</div>
<i class="sw" style="left:185px;top:222.64px;background:#eab839"></i>
<div class="lg" style="left:202.76px;top:215.64px">peak  Max: 87.0  Current: 87.0</div>
<i class="sw" style="left:361.16px;top:222.64px;background:#6ed0e0"></i>
<div class="lg" style="left:378.76px;top:215.64px">daemon  Max: 9.0  Current: 8.0</div>
<b class="rz"></b></div>
<div class="panel" style="left:1934.5px;top:1077px;width:609.5px;height:267px">
<div class="ptitle">Thread States</div>
<svg class="plot" width="609.5" height="267" viewBox="0 0 609.5 267">
<path class="grid" d="M29.02 44.6H578.46M29.02 79.8H578.46M29.02 115H578.46M29.02 150.2H578.46M29.02 185.4H578.46M53.06 44.48V185.6M121.74 44.48V185.6M190.42 44.48V185.6M259.1 44.48V185.6M327.78 44.48V185.6M396.46 44.48V185.6M465.14 44.48V185.6M533.82 44.48V185.6"/>
<clipPath id="c1934_1077"><rect x="29.02" y="40.48" width="549.44" height="147.12"/></clipPath>
<g clip-path="url(#c1934_1077)">
<path d="M22.62 185.08L533.82 185.08L533.82 185.6L22.62 185.6Z" fill="#bf1b00" fill-opacity="0.1" stroke="none"/>
<path d="M22.62 185.08L533.82 185.08" fill="none" stroke="#bf1b00" stroke-width="2" stroke-opacity="0.5" stroke-linejoin="round"/>
<path d="M22.62 185.08L533.82 185.08L533.82 185.6L22.62 185.6Z" fill="#c58a9a" fill-opacity="0.1" stroke="none"/>
<path d="M22.62 185.08L533.82 185.08" fill="none" stroke="#c58a9a" stroke-width="2.4" stroke-opacity="0.8" stroke-linejoin="round"/>
<path d="M18.72 158.2L53.06 162.68L87.4 162.68L121.74 162.68L156.08 162.68L190.42 162.68L224.76 162.68L259.1 162.68L293.44 162.68L327.78 162.68L362.12 162.68L396.46 162.68L430.8 162.68L465.14 162.68L499.48 162.68L533.82 162.68L533.82 185.6L18.72 185.6Z" fill="#7eb26d" fill-opacity="0.1" stroke="none"/>
<path d="M18.72 158.2L53.06 162.68L87.4 162.68L121.74 162.68L156.08 162.68L190.42 162.68L224.76 162.68L259.1 162.68L293.44 162.68L327.78 162.68L362.12 162.68L396.46 162.68L430.8 162.68L465.14 162.68L499.48 162.68L533.82 162.68" fill="none" stroke="#7eb26d" stroke-width="2" stroke-opacity="0.9" stroke-linejoin="round"/>
<path d="M18.72 178.2L53.06 178.2L87.4 178.2L121.74 178.2L156.08 178.2L190.42 178.2L224.76 178.04L259.1 175.16L293.44 175.16L327.78 175.16L362.12 175.16L396.46 175.16L430.8 175.16L465.14 178.04L499.48 178.2L533.82 178.2L533.82 185.6L18.72 185.6Z" fill="#ef843c" fill-opacity="0.1" stroke="none"/>
<path d="M18.72 178.2L53.06 178.2L87.4 178.2L121.74 178.2L156.08 178.2L190.42 178.2L224.76 178.04L259.1 175.16L293.44 175.16L327.78 175.16L362.12 175.16L396.46 175.16L430.8 175.16L465.14 178.04L499.48 178.2L533.82 178.2" fill="none" stroke="#ef843c" stroke-width="2.2" stroke-opacity="0.72" stroke-linejoin="round"/>
<path d="M18.72 72.44L53.06 67.64L87.4 67.64L121.74 67.64L156.08 67.64L190.42 67.64L224.76 67.64L259.1 67.64L293.44 67.64L327.78 67.64L362.12 67.64L396.46 67.64L430.8 67.64L465.14 67.64L499.48 67.64L533.82 67.64L533.82 185.6L18.72 185.6Z" fill="#eab839" fill-opacity="0.1" stroke="none"/>
<path d="M18.72 72.44L53.06 67.64L87.4 67.64L121.74 67.64L156.08 67.64L190.42 67.64L224.76 67.64L259.1 67.64L293.44 67.64L327.78 67.64L362.12 67.64L396.46 67.64L430.8 67.64L465.14 67.64L499.48 67.64L533.82 67.64" fill="none" stroke="#eab839" stroke-width="2.5" stroke-opacity="0.8" stroke-linejoin="round"/>
</g>
</svg>
<div class="yl" style="right:585.48px;top:37.4px">80</div>
<div class="yl" style="right:585.48px;top:72.6px">60</div>
<div class="yl" style="right:585.48px;top:107.8px">40</div>
<div class="yl" style="right:585.48px;top:143px">20</div>
<div class="yl" style="right:585.48px;top:178.2px">0</div>
<div class="xl" style="left:13.06px;top:194.48px">10:41:00</div>
<div class="xl" style="left:81.74px;top:194.48px">10:41:30</div>
<div class="xl" style="left:150.42px;top:194.48px">10:42:00</div>
<div class="xl" style="left:219.1px;top:194.48px">10:42:30</div>
<div class="xl" style="left:287.78px;top:194.48px">10:43:00</div>
<div class="xl" style="left:356.46px;top:194.48px">10:43:30</div>
<div class="xl" style="left:425.14px;top:194.48px">10:44:00</div>
<div class="xl" style="left:493.82px;top:194.48px">10:44:30</div>
<i class="sw" style="left:19.1px;top:222.64px;background:#bf1b00"></i>
<div class="lg" style="left:35.1px;top:215.64px">blocked  Max: 0  Current: 0</div>
<i class="sw" style="left:177.5px;top:222.64px;background:#fce2de"></i>
<div class="lg" style="left:194.46px;top:215.64px">new  Max: 0  Current: 0</div>
<i class="sw" style="left:317.02px;top:222.64px;background:#7eb26d"></i>
<div class="lg" style="left:333.02px;top:215.64px">runnable  Max: 15  Current: 13</div>
<b class="rz"></b></div>
<div style="position:absolute;left:2553.500px;top:57px;width:8px;height:462px;background:#42455a;border-radius:3px 0 0 3px"></div>
</div>
</body>
</html>
